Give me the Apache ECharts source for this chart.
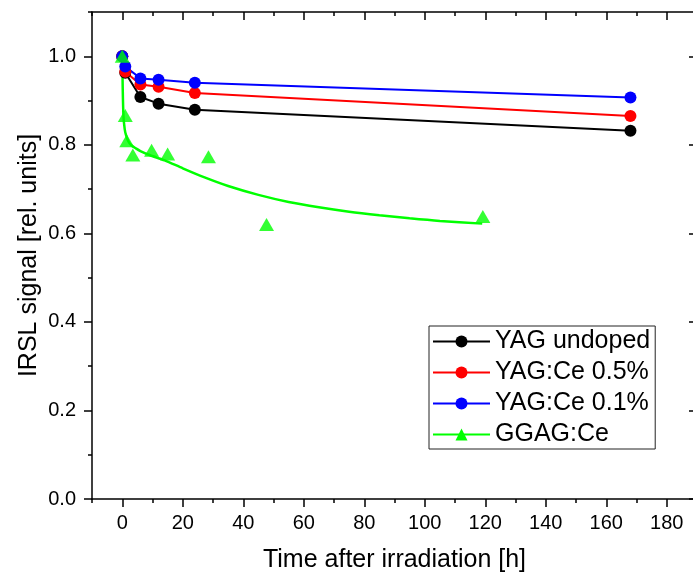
<!DOCTYPE html>
<html><head><meta charset="utf-8">
<script src="https://cdn.jsdelivr.net/npm/echarts@6/dist/echarts.min.js"></script>
<style>html,body{margin:0;padding:0;background:#fff}#c{width:693px;height:577px}</style>
</head><body><div id="c"></div><script>
const yagTimes = [0, 1, 6, 12, 24, 168];
const yagUndoped = [1.0, 0.963, 0.908, 0.893, 0.879, 0.832];
const yagCe05 = [1.0, 0.965, 0.936, 0.931, 0.917, 0.865];
const yagCe01 = [1.0, 0.977, 0.950, 0.947, 0.940, 0.907];
const ggagTimes = [0, 1, 1.5, 3.5, 9.7, 15, 28.5, 47.7, 119.2];
const ggagValues = [1.0, 0.866, 0.809, 0.777, 0.788, 0.779, 0.773, 0.620, 0.638];
const fitTimes = [0, 0.15, 0.4, 0.8, 1.2, 2, 3, 4.5, 6, 9, 14, 20, 27, 35, 45, 55, 65, 75, 85, 95, 105, 119];
const fitValues = [1.0, 0.93, 0.865, 0.836, 0.823, 0.808, 0.799, 0.792, 0.786, 0.777, 0.765, 0.747, 0.727, 0.707, 0.687, 0.671, 0.659, 0.649, 0.641, 0.634, 0.628, 0.622];
const xMajorTicks = [0, 20, 40, 60, 80, 100, 120, 140, 160, 180];
const yMajorTicks = [0, 0.2, 0.4, 0.6, 0.8, 1.0];
const seriesNames = ['YAG undoped', 'YAG:Ce 0.5%', 'YAG:Ce 0.1%', 'GGAG:Ce'];
const xTitle = 'Time after irradiation [h]';
const yTitle = 'IRSL signal [rel. units]';

const FONT = '"Liberation Sans", Arial, sans-serif';
const zip = (xs, ys) => xs.map((x, i) => [x, ys[i]]);
const lineW = 1.5;
const axLine = {show: true, onZero: false, lineStyle: {color: '#000', width: lineW}};
const noLine = {show: false, onZero: false};
const xBase = {type: 'value', min: -10, max: 190, splitLine: {show: false}};
const yBase = {type: 'value', min: 0, max: 1.1, splitLine: {show: false}};

const chart = echarts.init(document.getElementById('c'), null, {renderer: 'canvas'});
chart.setOption({
  animation: false,
  backgroundColor: '#fff',
  textStyle: {fontFamily: FONT},
  grid: {left: 92, top: 12, width: 605, height: 487, containLabel: false, outerBoundsMode: 'none'},
  xAxis: [
    Object.assign({}, xBase, {position: 'bottom', interval: 10, axisLine: axLine,
      axisTick: {show: true, inside: false, length: 4, lineStyle: {color: '#000', width: lineW}},
      axisLabel: {show: true, customValues: xMajorTicks, fontSize: 20, color: '#000', margin: 14, fontFamily: FONT},
      name: xTitle, nameLocation: 'middle', nameGap: 49, nameMoveOverlap: false,
      nameTextStyle: {fontSize: 25, color: '#000', fontFamily: FONT}}),
    Object.assign({}, xBase, {position: 'bottom', axisLine: noLine,
      axisTick: {show: true, inside: false, length: 8, customValues: xMajorTicks, lineStyle: {color: '#000', width: lineW}},
      axisLabel: {show: false}}),
    Object.assign({}, xBase, {position: 'top', interval: 10, axisLine: axLine,
      axisTick: {show: true, inside: true, length: 4, lineStyle: {color: '#000', width: lineW}},
      axisLabel: {show: false}}),
    Object.assign({}, xBase, {position: 'top', axisLine: noLine,
      axisTick: {show: true, inside: true, length: 8, customValues: xMajorTicks, lineStyle: {color: '#000', width: lineW}},
      axisLabel: {show: false}})
  ],
  yAxis: [
    Object.assign({}, yBase, {position: 'left', interval: 0.1, axisLine: axLine,
      axisTick: {show: true, inside: false, length: 4, lineStyle: {color: '#000', width: lineW}},
      axisLabel: {show: true, customValues: yMajorTicks, fontSize: 20, color: '#000', margin: 16, fontFamily: FONT,
        formatter: v => v.toFixed(1)},
      name: yTitle, nameLocation: 'middle', nameGap: 50, nameRotate: 90, nameMoveOverlap: false,
      nameTextStyle: {fontSize: 25, color: '#000', fontFamily: FONT}}),
    Object.assign({}, yBase, {position: 'left', axisLine: noLine,
      axisTick: {show: true, inside: false, length: 8, customValues: yMajorTicks, lineStyle: {color: '#000', width: lineW}},
      axisLabel: {show: false}}),
    Object.assign({}, yBase, {position: 'right', interval: 0.1, axisLine: axLine,
      axisTick: {show: true, inside: true, length: 4, lineStyle: {color: '#000', width: lineW}},
      axisLabel: {show: false}}),
    Object.assign({}, yBase, {position: 'right', axisLine: noLine,
      axisTick: {show: true, inside: true, length: 8, customValues: yMajorTicks, lineStyle: {color: '#000', width: lineW}},
      axisLabel: {show: false}})
  ],
  legend: {
    data: seriesNames,
    orient: 'vertical',
    left: 429, top: 326,
    padding: [3, 5, 2, 3],
    itemGap: 6,
    itemWidth: 57, itemHeight: 15,
    borderColor: '#222', borderWidth: 1,
    backgroundColor: '#fff',
    textStyle: {fontSize: 25, color: '#000', fontFamily: FONT, lineHeight: 25},
    selectedMode: false
  },
  series: [
    {name: seriesNames[0], type: 'line', xAxisIndex: 0, yAxisIndex: 0, data: zip(yagTimes, yagUndoped),
      symbol: 'circle', symbolSize: 12, itemStyle: {color: '#000'}, lineStyle: {color: '#000', width: 2}},
    {name: seriesNames[1], type: 'line', xAxisIndex: 0, yAxisIndex: 0, data: zip(yagTimes, yagCe05),
      symbol: 'circle', symbolSize: 12, itemStyle: {color: '#ff0000'}, lineStyle: {color: '#ff0000', width: 2}},
    {name: seriesNames[2], type: 'line', xAxisIndex: 0, yAxisIndex: 0, data: zip(yagTimes, yagCe01),
      symbol: 'circle', symbolSize: 12, itemStyle: {color: '#0000ff'}, lineStyle: {color: '#0000ff', width: 2}},
    {name: seriesNames[3], type: 'line', xAxisIndex: 0, yAxisIndex: 0, data: zip(fitTimes, fitValues),
      symbol: 'triangle', showSymbol: false, smooth: 0.25, z: 3,
      itemStyle: {color: '#00ff00'}, lineStyle: {color: '#00ff00', width: 2.5}},
    {name: 'GGAG data', type: 'scatter', xAxisIndex: 0, yAxisIndex: 0, data: zip(ggagTimes, ggagValues), z: 4,
      symbol: 'triangle', symbolSize: [15, 13], itemStyle: {color: '#00ff00'}}
  ]
});
</script></body></html>
